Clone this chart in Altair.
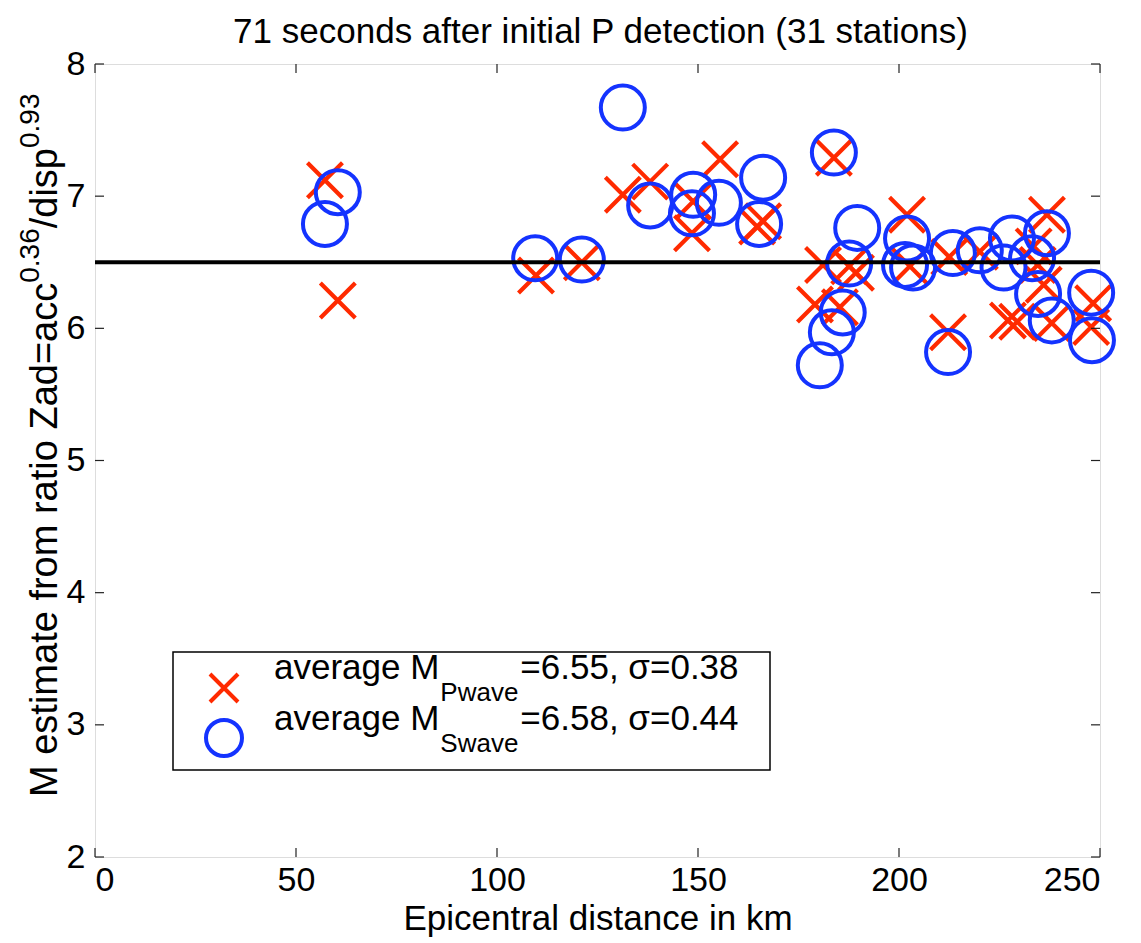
import altair as alt
import pandas as pd

# ---------------- data ----------------
dist_p = [57.2, 60.4, 109.7, 121.1, 131.3, 138.1, 148.8, 148.5, 155.5, 164.7,
          166.2, 183.8, 181.1, 187.6, 189.3, 179.1, 185.3, 202.0, 202.7, 212.2,
          212.5, 220.1, 227.1, 229.4, 236.8, 234.5, 236.0, 238.0, 248.3, 247.8,
          233.5]
mag_p = [7.12, 6.21, 6.40, 6.50, 7.01, 7.11, 6.96, 6.72, 7.28, 6.77,
         6.81, 7.29, 6.48, 6.47, 6.42, 6.18, 6.16, 6.86, 6.47, 5.97,
         6.54, 6.58, 6.06, 6.05, 6.86, 6.48, 6.33, 6.04, 6.19, 6.01,
         6.62]
dist_s = [57.2, 60.4, 109.5, 121.1, 131.3, 138.1, 148.8, 148.5, 155.2, 166.2,
          165.2, 183.8, 189.6, 187.6, 186.0, 183.3, 180.3, 202.0, 201.5, 203.5,
          212.2, 213.4, 220.1, 228.1, 226.0, 236.8, 233.1, 234.6, 238.0, 247.8,
          248.0]
mag_s = [6.79, 7.03, 6.53, 6.52, 7.67, 6.93, 7.01, 6.87, 6.95, 7.14,
         6.79, 7.33, 6.76, 6.49, 6.12, 5.97, 5.72, 6.68, 6.48, 6.46,
         5.82, 6.57, 6.59, 6.68, 6.46, 6.72, 6.53, 6.26, 6.06, 6.27,
         5.91]
ref_level = [6.5]
x_ticks = [0, 50, 100, 150, 200, 250]
y_ticks = [2, 3, 4, 5, 6, 7, 8]
title_text = "71 seconds after initial P detection (31 stations)"
x_title = "Epicentral distance in km"
y_title_parts = ["M estimate from ratio Zad=acc", "0.36", "/disp", "0.93"]
legend_main = ["average M", "average M"]
legend_sub = ["Pwave", "Swave"]
legend_rest = ["=6.55, \u03c3=0.38", "=6.58, \u03c3=0.44"]

# ---------------- style ----------------
FONT = "Liberation Sans"
RED = "#ff2a00"
BLUE = "#1433ff"
W, H = 1005, 793
TICK = 9

AW = {' ': 278, 'a': 556, 'c': 500, 'd': 556, 'e': 556, 'f': 278, 'g': 556,
      'i': 222, 'm': 833, 'n': 556, 'o': 556, 'p': 556, 'r': 333, 's': 500,
      't': 278, 'v': 500, 'w': 722, 'M': 833, 'P': 667, 'S': 667, 'Z': 611,
      '=': 584, '/': 278, '.': 278, ',': 278}


def tw(s, size):
    return sum(AW.get(ch, 556) for ch in s) / 1000.0 * size


xs = alt.Scale(domain=[0, 250], nice=False, zero=False)
ys = alt.Scale(domain=[2, 8], nice=False, zero=False)
xaxis = alt.Axis(values=x_ticks, format="d", ticks=False, tickSize=0, domain=False,
                 grid=False, labelFont=FONT, labelFontSize=34, labelColor="black",
                 labelPadding=6, labelBaseline="top", title=x_title, titleFont=FONT,
                 titleFontSize=35, titleFontWeight="normal", titleColor="black",
                 titlePadding=4)
yaxis = alt.Axis(values=y_ticks, format="d", ticks=False, tickSize=0, domain=False,
                 grid=False, labelFont=FONT, labelFontSize=34, labelColor="black",
                 labelPadding=10, title=None)

X = lambda: alt.X("d:Q", scale=xs, axis=xaxis)
Y = lambda: alt.Y("m:Q", scale=ys, axis=yaxis)

df_p = pd.DataFrame({"d": dist_p, "m": mag_p})
df_s = pd.DataFrame({"d": dist_s, "m": mag_s})

XSHAPE = "M-1,-1L1,1M-1,1L1,-1"

pw = alt.Chart(df_p).mark_point(shape=XSHAPE, size=1225, strokeWidth=4.2, filled=False,
                                color=RED, opacity=1).encode(x=X(), y=Y())
sw = alt.Chart(df_s).mark_point(shape="circle", size=1936, strokeWidth=4, filled=False,
                                color=BLUE, opacity=1).encode(x=X(), y=Y())
line = alt.Chart(pd.DataFrame({"m": ref_level})).mark_rule(color="black", strokeWidth=4).encode(y=Y())

# inward ticks on all four sides
dxt = pd.DataFrame({"d": x_ticks})
dyt = pd.DataFrame({"m": y_ticks})
tk = dict(color="#222222", strokeWidth=1.2)
xt_b = alt.Chart(dxt).mark_rule(**tk).encode(x=X(), y=alt.value(H), y2=alt.value(H - TICK))
xt_t = alt.Chart(dxt).mark_rule(**tk).encode(x=X(), y=alt.value(0), y2=alt.value(TICK))
yt_l = alt.Chart(dyt).mark_rule(**tk).encode(y=Y(), x=alt.value(0), x2=alt.value(TICK))
yt_r = alt.Chart(dyt).mark_rule(**tk).encode(y=Y(), x=alt.value(W), x2=alt.value(W - TICK))


def txt(s, x, y, size, angle=0, align="left"):
    kw = dict(align=align, baseline="alphabetic", font=FONT, fontSize=size, color="black")
    if angle:
        kw["angle"] = angle
    return alt.Chart(pd.DataFrame({"t": [s]})).mark_text(**kw).encode(
        x=alt.value(x), y=alt.value(y), text="t:N")


# chart title
title_layer = txt(title_text, W / 2 + 3, -21, 35, align="center")

# y-axis title with superscripts (rotated)
layers_y = []
MAIN, SUP = 38, 28
base_x, sup_x = -38, -56
ypos = 733
for i, part in enumerate(y_title_parts):
    sup = i % 2 == 1
    size = SUP if sup else MAIN
    layers_y.append(txt(part, sup_x if sup else base_x, ypos, size, angle=270))
    ypos -= tw(part, size)

# legend
box = alt.Chart(pd.DataFrame({"k": [0]})).mark_rect(fill="white", stroke="black", strokeWidth=1.5).encode(
    x=alt.value(78), x2=alt.value(675), y=alt.value(588), y2=alt.value(706))
leg_layers = [box]
sym_x = 129
row_base = [615, 666]
sym_y = [624, 674]
leg_layers.append(alt.Chart(pd.DataFrame({"k": [0]})).mark_point(
    shape=XSHAPE, size=784, strokeWidth=4, filled=False, color=RED, opacity=1).encode(
    x=alt.value(sym_x), y=alt.value(sym_y[0])))
leg_layers.append(alt.Chart(pd.DataFrame({"k": [0]})).mark_point(
    shape="circle", size=1296, strokeWidth=4, filled=False, color=BLUE, opacity=1).encode(
    x=alt.value(sym_x), y=alt.value(sym_y[1])))
for i in range(2):
    x0 = 179
    leg_layers.append(txt(legend_main[i], x0, row_base[i], 35))
    x1 = x0 + tw(legend_main[i], 35) + 1
    leg_layers.append(txt(legend_sub[i], x1, row_base[i] + 22, 26))
    x2 = x1 + tw(legend_sub[i], 26) + 2
    leg_layers.append(txt(legend_rest[i], x2, row_base[i], 35))

chart = alt.layer(
    pw, sw, line, xt_b, xt_t, yt_l, yt_r, title_layer, *layers_y, *leg_layers
).properties(
    width=W, height=H,
    autosize=alt.AutoSizeParams(type="none"),
    padding={"left": 87, "top": 56, "right": 33, "bottom": 85},
).configure_view(stroke="black", strokeWidth=1.5).configure(background="white")

chart.save("out.html", embed_options={"renderer": "svg", "actions": False})
